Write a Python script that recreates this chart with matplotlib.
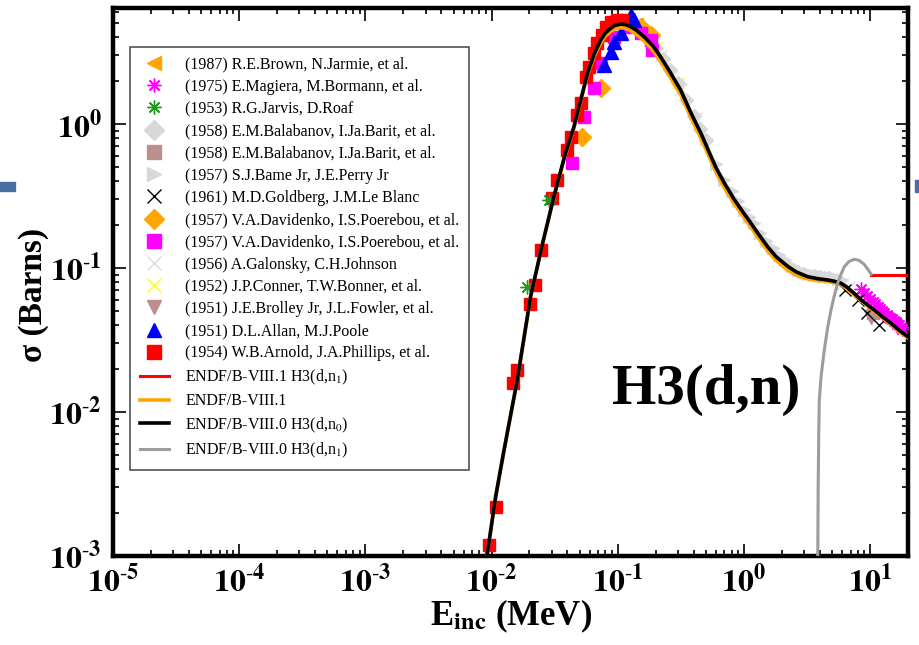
import numpy as np
import matplotlib
matplotlib.use("Agg")
import matplotlib.pyplot as plt
from matplotlib.ticker import FixedLocator, FixedFormatter, LogLocator, NullFormatter
from matplotlib.patches import Rectangle

plt.rcParams['font.family'] = ['Liberation Serif', 'DejaVu Serif']
plt.rcParams['mathtext.fontset'] = 'stix'

# --- evaluated curves (E in MeV, sigma in barns) ---
e_n0 = [0.0092, 0.0108, 0.0125, 0.016, 0.0204, 0.025, 0.0312, 0.038, 0.045, 0.0576,
        0.065, 0.0733, 0.08, 0.0879, 0.095, 0.1057, 0.115, 0.127, 0.14, 0.162,
        0.19, 0.219, 0.26, 0.316, 0.38, 0.456, 0.6, 0.7, 0.838, 1.0,
        1.137, 1.3, 1.54, 1.8, 2.22, 2.6, 3.2, 3.8, 4.62, 5.2,
        5.89, 6.5, 7.5, 8.5, 10.8, 12.5, 14.7, 17.0, 19.9]
s_n0_80 = [0.001, 0.0026, 0.0053, 0.0167, 0.0633, 0.14, 0.313, 0.6, 0.957, 2.25,
           3.05, 3.83, 4.3, 4.62, 4.85, 4.95, 4.92, 4.74, 4.5, 4.04,
           3.5, 2.93, 2.3, 1.72, 1.2, 0.866, 0.5, 0.39, 0.30, 0.24,
           0.205, 0.173, 0.141, 0.12, 0.103, 0.094, 0.0871, 0.0845, 0.0826, 0.081,
           0.0784, 0.074, 0.0667, 0.06, 0.0511, 0.046, 0.0413, 0.037, 0.0334]
s_n0_81 = [0.001, 0.0026, 0.0053, 0.0167, 0.0633, 0.14, 0.31, 0.59, 0.94, 2.2,
           2.95, 3.65, 4.1, 4.38, 4.58, 4.66, 4.64, 4.46, 4.22, 3.78,
           3.25, 2.72, 2.12, 1.6, 1.11, 0.8, 0.465, 0.36, 0.28, 0.225,
           0.192, 0.162, 0.132, 0.113, 0.097, 0.089, 0.084, 0.082, 0.081, 0.079,
           0.077, 0.072, 0.065, 0.059, 0.05, 0.045, 0.0405, 0.036, 0.0328]

e_n1_80 = [3.85, 3.88, 3.92, 3.96, 4.1, 4.34, 4.6, 4.9, 5.2, 5.54,
           5.9, 6.25, 6.8, 7.5, 8.2, 9.0, 9.6, 10.2]
s_n1_80 = [0.0009, 0.003, 0.007, 0.0121, 0.018, 0.027, 0.038, 0.0511, 0.064, 0.0784,
           0.091, 0.102, 0.111, 0.115, 0.113, 0.106, 0.098, 0.0908]
e_n1_81 = [10.2, 20.0]
s_n1_81 = [0.089, 0.089]

# --- experimental data ---
e_brown = [0.11, 0.14]
s_brown = [5.1, 4.9]
e_magiera = [8.5, 9.0, 9.5, 10.0, 10.5, 11.0, 11.5, 12.0, 12.5, 13.0,
             13.5, 14.0, 14.5, 15.0, 15.5, 16.0, 16.5, 17.0, 17.5, 18.0]
s_magiera = [0.071, 0.067, 0.064, 0.061, 0.058, 0.056, 0.054, 0.052, 0.05, 0.049,
             0.047, 0.046, 0.045, 0.044, 0.043, 0.042, 0.041, 0.04, 0.039, 0.038]
e_jarvis = [0.0192, 0.0285]
s_jarvis = [0.0741, 0.297]
e_bal_d = [0.12, 0.14, 0.16, 0.18, 0.2, 0.23, 0.26, 0.3, 0.35, 0.4, 0.45, 0.5]
s_bal_d = [5.0, 4.62, 4.2, 3.8, 3.4, 2.83, 2.37, 1.92, 1.47, 1.13, 0.92, 0.77]
e_bal_s = [10.5]
s_bal_s = [0.049]
e_bame = [0.5, 0.6, 0.7, 0.8, 0.9, 1.0, 1.1, 1.2, 1.35, 1.5, 1.7, 1.9,
          2.1, 2.4, 2.7, 3.0, 3.3, 3.6, 4.0, 4.4, 4.8, 5.2, 5.6, 6.0]
s_bame = [0.79, 0.53, 0.41, 0.345, 0.29, 0.255, 0.226, 0.205, 0.176, 0.155, 0.138, 0.123,
          0.113, 0.104, 0.0975, 0.094, 0.092, 0.09, 0.089, 0.088, 0.087, 0.086, 0.084, 0.083]
e_goldberg = [6.3, 8.0, 9.5, 11.8]
s_goldberg = [0.0703, 0.06, 0.0487, 0.0402]
e_dav_d = [0.0525, 0.0733, 0.152, 0.183]
s_dav_d = [0.816, 1.77, 4.74, 4.15]
e_dav_s = [0.0436, 0.0541, 0.0649, 0.0733, 0.0936, 0.119, 0.152, 0.183, 0.188]
s_dav_s = [0.533, 1.12, 1.77, 2.64, 4.04, 4.74, 4.26, 3.83, 3.27]
e_galonsky = [0.15, 0.22, 0.32, 0.42, 3.2, 4.2, 5.0, 6.0, 6.8]
s_galonsky = [4.45, 2.95, 1.75, 1.1, 0.09, 0.087, 0.084, 0.078, 0.074]
e_conner = [0.2, 0.3]
s_conner = [3.4, 1.92]
e_brolley = [10.2]
s_brolley = [0.046]
e_allan = [0.0778, 0.0879, 0.0936, 0.1057, 0.127, 0.135]
s_allan = [2.57, 3.18, 3.73, 4.26, 5.71, 5.27]
e_arnold = [0.00953, 0.01076, 0.01486, 0.0158, 0.0201, 0.0223, 0.0245, 0.0303, 0.0332,
            0.0399, 0.0424, 0.0479, 0.0508, 0.0557, 0.0591, 0.0649, 0.069, 0.0757,
            0.0804, 0.0879, 0.0995, 0.109]
s_arnold = [0.00119, 0.0022, 0.0158, 0.0196, 0.0562, 0.0762, 0.133, 0.305, 0.408,
            0.659, 0.816, 1.155, 1.39, 2.13, 2.5, 3.1, 3.63, 4.15,
            4.74, 5.13, 5.27, 5.27]

xtick_exp = [-5, -4, -3, -2, -1, 0, 1]
ytick_exp = [-3, -2, -1, 0]


def tick_label(k):
    # hyphen instead of the long minus, like the original plot
    if k < 0:
        return r'$\mathbf{10^{\text{-}%d}}$' % (-k)
    return r'$\mathbf{10^{%d}}$' % k


fig = plt.figure(figsize=(9.2, 6.45), dpi=100)
ax = fig.add_axes([0.1228, 0.138, 0.8642, 0.8496])

ms = 9
ax.plot(e_brown, s_brown, ls='none', marker='<', color='#ffa500', ms=10, zorder=2,
        label='(1987) R.E.Brown, N.Jarmie, et al.')
ax.plot(e_magiera, s_magiera, ls='none', marker=(8, 2, 0), color='#ff00ff', ms=10, mew=1,
        zorder=3, label='(1975) E.Magiera, M.Bormann, et al.')
ax.plot(e_jarvis, s_jarvis, ls='none', marker=(8, 2, 0), color='#209a20', ms=10, mew=1,
        zorder=3, label='(1953) R.G.Jarvis, D.Roaf')
ax.plot(e_bal_d, s_bal_d, ls='none', marker='D', color='#d8d8d8', ms=7.5, zorder=1,
        label='(1958) E.M.Balabanov, I.Ja.Barit, et al.')
ax.plot(e_bal_s, s_bal_s, ls='none', marker='s', color='#bc8f8f', ms=ms, zorder=2,
        label='(1958) E.M.Balabanov, I.Ja.Barit, et al.')
ax.plot(e_bame, s_bame, ls='none', marker='>', color='#d8d8d8', ms=8, zorder=1,
        label='(1957) S.J.Bame Jr, J.E.Perry Jr')
ax.plot(e_goldberg, s_goldberg, ls='none', marker='x', color='black', ms=8, mew=1,
        zorder=3, label='(1961) M.D.Goldberg, J.M.Le Blanc')
ax.plot(e_dav_d, s_dav_d, ls='none', marker='D', color='#ffa500', ms=ms, zorder=2,
        label='(1957) V.A.Davidenko, I.S.Poerebou, et al.')
ax.plot(e_dav_s, s_dav_s, ls='none', marker='s', color='#ff00ff', ms=ms, zorder=2,
        label='(1957) V.A.Davidenko, I.S.Poerebou, et al.')
ax.plot(e_galonsky, s_galonsky, ls='none', marker='x', color='#dcdcdc', ms=8, mew=1,
        zorder=1, label='(1956) A.Galonsky, C.H.Johnson')
ax.plot(e_conner, s_conner, ls='none', marker='x', color='#ffff00', ms=8, mew=1,
        zorder=0.5, label='(1952) J.P.Conner, T.W.Bonner, et al.')
ax.plot(e_brolley, s_brolley, ls='none', marker='v', color='#bc8f8f', ms=10, zorder=2,
        label='(1951) J.E.Brolley Jr, J.L.Fowler, et al.')
ax.plot(e_allan, s_allan, ls='none', marker='^', color='#0000ff', ms=10, zorder=2,
        label='(1951) D.L.Allan, M.J.Poole')
ax.plot(e_arnold, s_arnold, ls='none', marker='s', color='#ff0000', ms=ms, zorder=2.5,
        label='(1954) W.B.Arnold, J.A.Phillips, et al.')

ax.plot(e_n1_81, s_n1_81, color='#ff0000', lw=2.2, zorder=5,
        label='ENDF/B-VIII.1 H3(d,n$_1$)')
ax.plot(e_n0, s_n0_81, color='#ffa500', lw=2.6, zorder=4,
        label='ENDF/B-VIII.1')
ax.plot(e_n0, s_n0_80, color='black', lw=2.6, zorder=5,
        label='ENDF/B-VIII.0 H3(d,n$_0$)')
ax.plot(e_n1_80, s_n1_80, color='#9c9c9c', lw=2.2, zorder=6,
        label='ENDF/B-VIII.0 H3(d,n$_1$)')

ax.set_xscale('log')
ax.set_yscale('log')
ax.set_xlim(1e-5, 20)
ax.set_ylim(1e-3, 6.4)

ax.xaxis.set_major_locator(FixedLocator([10.0 ** k for k in xtick_exp]))
ax.xaxis.set_major_formatter(FixedFormatter([tick_label(k) for k in xtick_exp]))
ax.yaxis.set_major_locator(FixedLocator([10.0 ** k for k in ytick_exp]))
ax.yaxis.set_major_formatter(FixedFormatter([tick_label(k) for k in ytick_exp]))
for a in (ax.xaxis, ax.yaxis):
    a.set_minor_locator(LogLocator(base=10, subs=np.arange(2, 10), numticks=20))
    a.set_minor_formatter(NullFormatter())

ax.tick_params(which='both', direction='in', top=True, right=True, width=1.2)
ax.tick_params(which='major', length=9, labelsize=23)
ax.tick_params(which='minor', length=4.5)
ax.tick_params(axis='x', which='major', pad=7)
ax.tick_params(axis='y', which='major', pad=8)
for sp in ax.spines.values():
    sp.set_linewidth(3.2)

ax.set_xlabel(r'E$_{\mathbf{inc}}$ (MeV)', fontsize=25, fontweight='bold', va='top')
ax.xaxis.set_label_coords(0.5, -0.076)
ax.set_ylabel('σ (Barns)', fontsize=24, fontweight='bold')
ax.yaxis.set_label_coords(-0.08, 0.476)

ax.text(0.746, 0.303, 'H3(d,n)', transform=ax.transAxes, fontsize=41,
        fontweight='bold', ha='center', va='center')

leg = ax.legend(loc='upper left', bbox_to_anchor=(0.0214, 0.929), borderaxespad=0,
                fontsize=11.5, frameon=True, fancybox=False, framealpha=1,
                edgecolor='#444444', handlelength=1.85, handletextpad=1.0,
                labelspacing=0.39, borderpad=0.6, numpoints=1)
leg.get_frame().set_linewidth(1.1)
for h in leg.legend_handles:
    if h.get_linestyle() == 'None':
        h.set_markersize(10)

# slide decoration bits outside the plot frame
fig.patches.append(Rectangle((0, 1 - 191 / 645), 15 / 920, 9 / 645,
                             transform=fig.transFigure, color='#4a6fa5', zorder=0))
fig.patches.append(Rectangle((915 / 920, 1 - 192 / 645), 5 / 920, 12 / 645,
                             transform=fig.transFigure, color='#4a6fa5', zorder=0))

fig.savefig('out.png', dpi=100)
